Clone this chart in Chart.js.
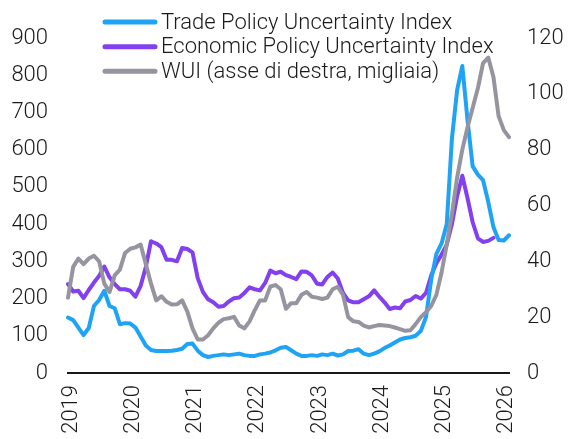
<!DOCTYPE html>
<html>
<head>
<meta charset="utf-8">
<script src="https://cdn.jsdelivr.net/npm/chart.js@4"></script>
<style>
  html, body { margin: 0; padding: 0; background: #fff; }
  #wrap { width: 571px; height: 439px; }
</style>
</head>
<body>
<div id="wrap"><canvas id="uncertainty-chart" width="571" height="439"></canvas></div>
<script>
// tick labels (one per January), monthly data from Jan 2019 to Feb 2026
const years = ['2019', '2020', '2021', '2022', '2023', '2024', '2025', '2026'];
const lastYearMonths = 2;

const seriesNames = [
  'Trade Policy Uncertainty Index',
  'Economic Policy Uncertainty Index',
  'WUI (asse di destra, migliaia)'
];
const seriesColors = ['#1ea3f5', '#8340ee', '#95949f'];

const tpu = [
  149, 142, 122, 102, 121, 180, 196, 221, 180, 174, 131, 134,
  133, 122, 98, 74, 62, 59, 59, 59, 60, 62, 65, 78,
  79, 60, 48, 43, 46, 48, 50, 48, 50, 52, 48, 46,
  46, 50, 52, 55, 61, 68, 70, 61, 52, 46, 46, 48,
  46, 50, 48, 52, 47, 50, 59, 60, 64, 52, 48, 52,
  58, 67, 74, 82, 90, 94, 96, 100, 113, 150, 250, 320,
  348, 400, 630, 760, 825, 680, 555, 533, 518, 460, 392, 357,
  356, 370
];

const epu = [
  239, 219, 221, 201, 223, 243, 261, 286, 257, 239, 225, 225,
  221, 205, 234, 285, 354, 348, 338, 304, 304, 300, 336, 333,
  324, 255, 218, 198, 190, 178, 180, 192, 201, 203, 215, 230,
  225, 222, 242, 275, 268, 272, 263, 258, 252, 273, 272, 262,
  240, 238, 258, 270, 254, 215, 195, 190, 190, 198, 206, 222,
  205, 190, 172, 176, 174, 192, 196, 207, 200, 215, 262, 295,
  318, 345, 400, 475, 530, 470, 405, 362, 352, 355, 363, null,
  null, null
];

const wui = [
  27, 38, 41, 39, 41, 42, 40, 32, 29, 35, 37, 43,
  44.5, 45, 46, 39, 32, 26, 27.5, 25.5, 24.5, 24.6, 26, 22,
  16, 12, 12, 13.5, 16, 18, 19.3, 19.6, 20.1, 17, 16, 18.5,
  22.5, 26, 26, 31, 31.5, 30, 23, 25, 25, 28, 29, 27.3,
  27, 26.5, 27, 30, 30.9, 28, 20, 18.5, 18.3, 17, 16.3, 16.8,
  17.2, 17, 16.8, 16.3, 15.7, 15.1, 15.3, 17.5, 20, 21.8, 24, 28,
  36, 46, 57, 70, 80, 88, 95, 102, 111, 113, 106, 92,
  87, 84.5
];

const labels = [];
years.forEach((y, i) => {
  const n = i === years.length - 1 ? lastYearMonths : 12;
  for (let m = 1; m <= n; m++) labels.push(y + '-' + String(m).padStart(2, '0'));
});

const FONT = 'Roboto, "Liberation Sans", sans-serif';
const tickFont = { family: FONT, size: 22, weight: 300 };

const legendPlugin = {
  id: 'insideLegend',
  afterDraw(chart) {
    const c = chart.ctx;
    const rows = [22, 46.7, 71.3];
    c.save();
    c.font = '300 22px ' + FONT;
    c.textBaseline = 'middle';
    c.textAlign = 'left';
    seriesNames.forEach((name, i) => {
      c.strokeStyle = seriesColors[i];
      c.lineWidth = 5;
      c.lineCap = 'round';
      c.beginPath();
      c.moveTo(105, rows[i]);
      c.lineTo(155, rows[i]);
      c.stroke();
      c.fillStyle = '#1a1a1a';
      c.fillText(name, 161, rows[i] + 1);
    });
    c.restore();
  }
};

const ctx = document.getElementById('uncertainty-chart');

new Chart(ctx, {
  type: 'line',
  data: {
    labels: labels,
    datasets: [
      { label: seriesNames[0], data: tpu, borderColor: seriesColors[0], yAxisID: 'y', order: 1 },
      { label: seriesNames[1], data: epu, borderColor: seriesColors[1], yAxisID: 'y', order: 2 },
      { label: seriesNames[2], data: wui, borderColor: seriesColors[2], yAxisID: 'y1', order: 0 }
    ]
  },
  options: {
    responsive: false,
    animation: false,
    elements: {
      line: { borderWidth: 4, tension: 0, borderJoinStyle: 'round', borderCapStyle: 'round' },
      point: { radius: 0, hoverRadius: 0 }
    },
    layout: { padding: { top: 38, left: 0, right: 0, bottom: 0 } },
    plugins: {
      legend: { display: false },
      tooltip: { enabled: false }
    },
    scales: {
      x: {
        offset: false,
        grid: { display: false, drawTicks: false },
        border: { display: true, color: '#1a1a1a', width: 2 },
        ticks: {
          autoSkip: false,
          maxRotation: 90,
          minRotation: 90,
          padding: 12,
          labelOffset: 3,
          color: '#1a1a1a',
          font: tickFont,
          callback: function (value) {
            const l = this.getLabelForValue(value);
            return l.endsWith('-01') ? l.slice(0, 4) : null;
          }
        },
        afterFit: (s) => { s.height = 66; }
      },
      y: {
        position: 'left',
        min: 0,
        max: 900,
        grid: { display: false, drawTicks: false },
        border: { display: false },
        ticks: { stepSize: 100, padding: 20, color: '#1a1a1a', font: tickFont },
        afterFit: (s) => { s.width = 68; }
      },
      y1: {
        position: 'right',
        min: 0,
        max: 120,
        grid: { display: false, drawTicks: false },
        border: { display: false },
        ticks: { stepSize: 20, padding: 18, color: '#1a1a1a', font: tickFont },
        afterFit: (s) => { s.width = 62; }
      }
    }
  },
  plugins: [legendPlugin]
});
</script>
</body>
</html>
